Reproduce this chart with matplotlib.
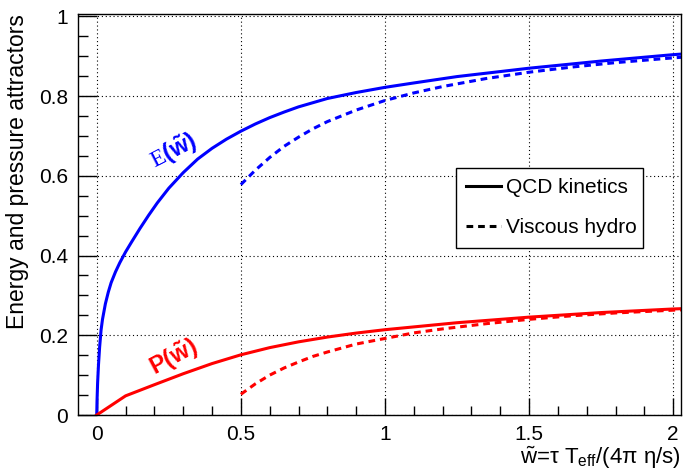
import matplotlib
matplotlib.use("Agg")
import matplotlib.pyplot as plt
from matplotlib.lines import Line2D
from matplotlib.ticker import MultipleLocator, FormatStrFormatter

plt.rcParams['font.family'] = ['Liberation Sans', 'DejaVu Sans']
plt.rcParams['mathtext.fontset'] = 'custom'
plt.rcParams['mathtext.rm'] = 'Liberation Sans'
plt.rcParams['mathtext.it'] = 'Liberation Sans:italic'
plt.rcParams['mathtext.bf'] = 'Liberation Sans:bold'
plt.rcParams['mathtext.sf'] = 'Liberation Serif'

# energy attractor, kinetic theory
w_kin_e = [0, 0.001, 0.003, 0.006, 0.01, 0.015, 0.02, 0.03, 0.04, 0.05, 0.065,
           0.08, 0.1, 0.12, 0.15, 0.18, 0.21, 0.25, 0.3, 0.35, 0.4, 0.45, 0.5,
           0.55, 0.6, 0.65, 0.7, 0.8, 0.9, 1.0, 1.1, 1.25, 1.5, 1.75, 2.0, 2.04]
e_kin = [0, 0.035, 0.08, 0.125, 0.17, 0.213, 0.24, 0.279, 0.308, 0.332, 0.359,
         0.382, 0.409, 0.433, 0.468, 0.501, 0.532, 0.569, 0.608, 0.642, 0.669, 0.692, 0.712,
         0.730, 0.746, 0.760, 0.773, 0.794, 0.809, 0.822, 0.833, 0.849, 0.870, 0.888, 0.904, 0.906]

# energy attractor, viscous hydro
w_hyd_e = [0.5, 0.55, 0.6, 0.65, 0.7, 0.75, 0.8, 0.9, 1.0, 1.1, 1.2, 1.35, 1.5,
           1.65, 1.8, 2.0, 2.04]
e_hyd = [0.578, 0.614, 0.646, 0.674, 0.697, 0.718, 0.736, 0.765, 0.789, 0.808, 0.824,
         0.844, 0.860, 0.873, 0.884, 0.896, 0.898]

# pressure attractor, kinetic theory
w_kin_p = [0, 0.1, 0.2, 0.3, 0.4, 0.5, 0.6, 0.7, 0.8, 0.9, 1.0, 1.25, 1.5, 1.75, 2.0, 2.04]
p_kin = [0, 0.048, 0.076, 0.1035, 0.129, 0.151, 0.169, 0.1835, 0.1955, 0.2055, 0.214,
         0.2315, 0.2455, 0.257, 0.266, 0.267]

# pressure attractor, viscous hydro
w_hyd_p = [0.5, 0.55, 0.6, 0.65, 0.7, 0.75, 0.8, 0.9, 1.0, 1.1, 1.2, 1.35, 1.5,
           1.65, 1.8, 2.0, 2.04]
p_hyd = [0.052, 0.078, 0.100, 0.118, 0.133, 0.147, 0.158, 0.178, 0.192, 0.206, 0.216,
         0.229, 0.240, 0.249, 0.256, 0.263, 0.264]

legend_labels = ['QCD kinetics', 'Viscous hydro']

fig = plt.figure(figsize=(6.83, 4.73), dpi=100)
ax = fig.add_axes([78 / 683, 58 / 473, 603 / 683, 401 / 473])

dash = (0, (2.2, 1.6))
lw = 2.2
ax.plot(w_kin_e, e_kin, color='#0000ff', lw=lw)
ax.plot(w_hyd_e, e_hyd, color='#0000ff', lw=lw, ls=dash)
ax.plot(w_kin_p, p_kin, color='#ff0000', lw=lw)
ax.plot(w_hyd_p, p_hyd, color='#ff0000', lw=lw, ls=dash)

ax.set_xlim(-0.065, 2.027)
ax.set_ylim(0, 1.006)

ax.xaxis.set_major_locator(MultipleLocator(0.5))
ax.xaxis.set_minor_locator(MultipleLocator(0.1))
ax.yaxis.set_major_locator(MultipleLocator(0.2))
ax.yaxis.set_minor_locator(MultipleLocator(0.05))
ax.xaxis.set_major_formatter(FormatStrFormatter('%g'))
ax.yaxis.set_major_formatter(FormatStrFormatter('%g'))

ax.tick_params(which='both', direction='in', top=False, right=False, width=1, labelsize=15)
ax.tick_params(axis='x', which='major', length=12.5, pad=7)
ax.tick_params(axis='x', which='minor', length=6.3)
ax.tick_params(axis='y', which='major', length=14, pad=7)
ax.tick_params(axis='y', which='minor', length=7)
for s in ax.spines.values():
    s.set_linewidth(1)

ax.grid(True, which='major', color='black', linestyle=(0, (1, 2.5)), linewidth=0.8)

handles = [Line2D([], [], color='black', lw=lw),
           Line2D([], [], color='black', lw=lw, ls=dash)]
leg = ax.legend(handles, legend_labels, loc='upper left',
                bbox_to_anchor=(0.627, 0.424, 0.31, 0.192), mode='expand',
                fontsize=15, fancybox=False, edgecolor='black', framealpha=1,
                handlelength=1.65, handletextpad=0.25, labelspacing=1.0,
                borderpad=0.5, borderaxespad=0)
leg.get_frame().set_linewidth(1)

ax.text(0.265, 0.661, r'$\mathsf{E}\mathbf{(\tilde{w})}$', color='#0000ff',
        fontsize=17, rotation=27, ha='center', va='center')
ax.text(0.269, 0.143, r'$\mathbf{P(\tilde{w})}$', color='#ff0000',
        fontsize=17, rotation=28, ha='center', va='center')

fig.text(18 / 683, 1 - 14 / 473, 'Energy and pressure attractors',
         rotation=90, ha='center', va='top', fontsize=16.5)
fig.text(681 / 683, 1 - 458 / 473,
         r'$\tilde{\mathrm{w}}$=τ T$_{\mathrm{eff}}$/(4π η/s)',
         ha='right', va='center', fontsize=16)

fig.savefig('out.png', dpi=100)
